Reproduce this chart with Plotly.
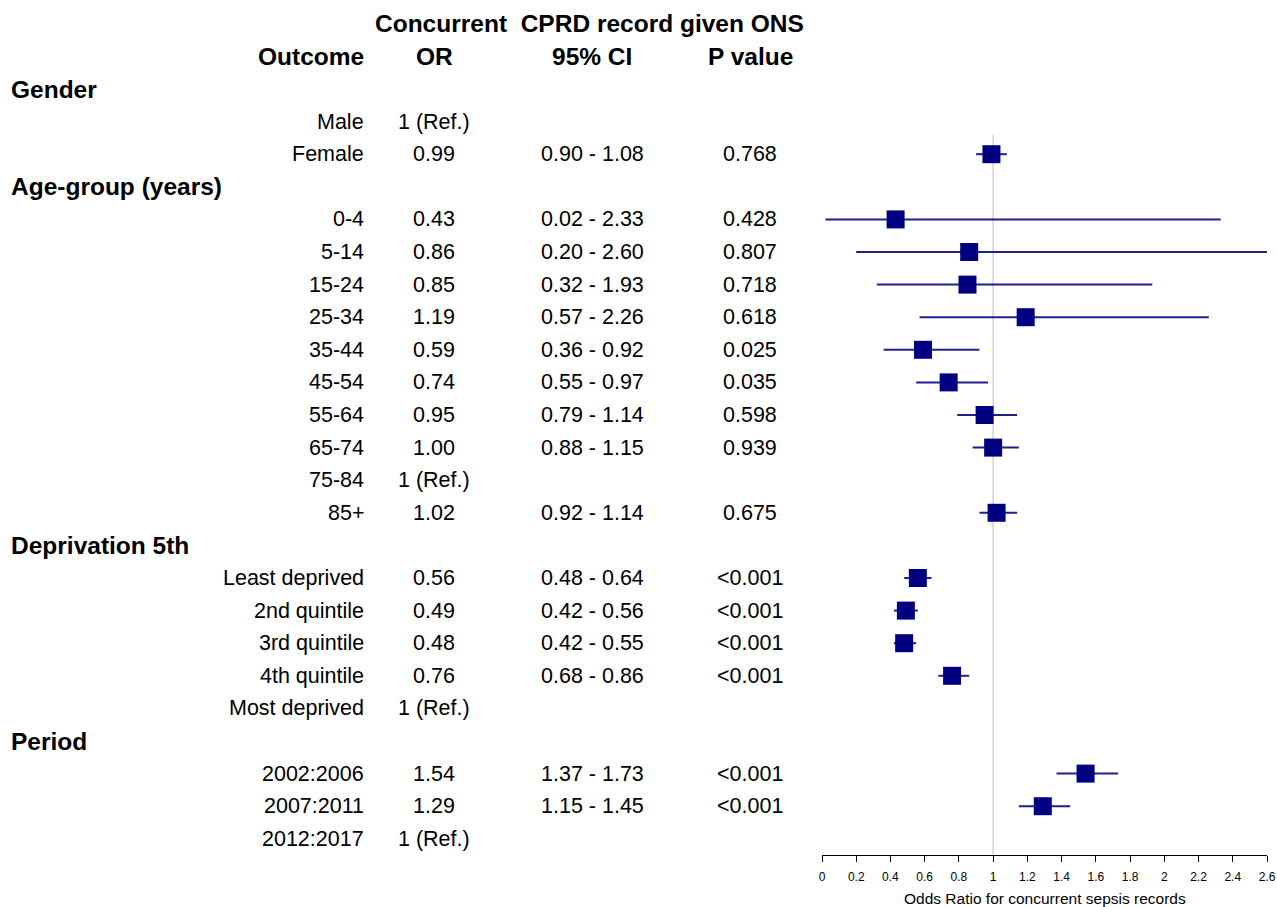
"""Forest plot: concurrent CPRD record given ONS."""

import plotly.graph_objects as go

# ---- data -------------------------------------------------------------
groups = ["Gender", "Gender",
          "Age-group (years)", "Age-group (years)", "Age-group (years)", "Age-group (years)",
          "Age-group (years)", "Age-group (years)", "Age-group (years)", "Age-group (years)",
          "Age-group (years)", "Age-group (years)",
          "Deprivation 5th", "Deprivation 5th", "Deprivation 5th", "Deprivation 5th", "Deprivation 5th",
          "Period", "Period", "Period"]
outcomes = ["Male", "Female",
            "0-4", "5-14", "15-24", "25-34", "35-44", "45-54", "55-64", "65-74", "75-84", "85+",
            "Least deprived", "2nd quintile", "3rd quintile", "4th quintile", "Most deprived",
            "2002:2006", "2007:2011", "2012:2017"]
odds_ratio = [None, 0.99,
              0.43, 0.86, 0.85, 1.19, 0.59, 0.74, 0.95, 1.00, None, 1.02,
              0.56, 0.49, 0.48, 0.76, None,
              1.54, 1.29, None]
ci_low = [None, 0.90,
          0.02, 0.20, 0.32, 0.57, 0.36, 0.55, 0.79, 0.88, None, 0.92,
          0.48, 0.42, 0.42, 0.68, None,
          1.37, 1.15, None]
ci_high = [None, 1.08,
           2.33, 2.60, 1.93, 2.26, 0.92, 0.97, 1.14, 1.15, None, 1.14,
           0.64, 0.56, 0.55, 0.86, None,
           1.73, 1.45, None]
p_values = ["", "0.768",
            "0.428", "0.807", "0.718", "0.618", "0.025", "0.035", "0.598", "0.939", "", "0.675",
            "<0.001", "<0.001", "<0.001", "<0.001", "",
            "<0.001", "<0.001", ""]
x_ticks = [0, 0.2, 0.4, 0.6, 0.8, 1, 1.2, 1.4, 1.6, 1.8, 2, 2.2, 2.4, 2.6]

# ---- layout rows: group header followed by its levels -------------------
rows = []
prev = None
for i, g in enumerate(groups):
    if g != prev:
        rows.append(("header", g, None))
        prev = g
    rows.append(("level", outcomes[i], i))

FONT = "Liberation Sans, Arial, sans-serif"
NAVY = "#000080"
W, H = 1277, 907
AX_L, AX_R = 822, 1267
AX_Y = 855
PW = AX_R  # plot area runs from 0 to the right end of the axis

fig = go.Figure()

annotations = []


def txt(x, y, s, anchor="center", bold=False):
    annotations.append(dict(
        x=x / PW, xref="paper", y=y, yref="y", text=f"<b>{s}</b>" if bold else s,
        showarrow=False, xanchor=anchor, yanchor="middle",
        font=dict(family=FONT, size=24.5 if bold else 21.5, color="black"),
    ))


# column headings
txt(589, -2, "Concurrent  CPRD record given ONS", bold=True)
txt(366, -1, "Outcome", anchor="right", bold=True)
txt(434, -1, "OR", bold=True)
txt(592, -1, "95% CI", bold=True)
txt(750, -1, "P value", bold=True)

ci_x, ci_y, pt_x, pt_y = [], [], [], []
for r, (kind, label, idx) in enumerate(rows):
    if kind == "header":
        txt(9, r, label, anchor="left", bold=True)
        continue
    txt(366, r, label, anchor="right")
    if odds_ratio[idx] is None:
        txt(434, r, "1 (Ref.)")
        continue
    txt(434, r, f"{odds_ratio[idx]:.2f}")
    txt(592, r, f"{ci_low[idx]:.2f} - {ci_high[idx]:.2f}")
    txt(750, r, p_values[idx])
    ci_x += [ci_low[idx], ci_high[idx], None]
    ci_y += [r, r, None]
    pt_x.append(odds_ratio[idx])
    pt_y.append(r)

n_rows = len(rows)

# reference line at OR = 1
fig.add_trace(go.Scatter(
    x=[1, 1], y=[1.4, n_rows - 0.5], mode="lines",
    line=dict(color="#d3d3d3", width=1.5), hoverinfo="skip", showlegend=False,
))
fig.add_trace(go.Scatter(
    x=ci_x, y=ci_y, mode="lines",
    line=dict(color="#1f1f8f", width=2), hoverinfo="skip", showlegend=False,
))
fig.add_trace(go.Scatter(
    x=pt_x, y=pt_y, mode="markers",
    marker=dict(symbol="square", size=18, color=NAVY, line=dict(width=0)),
    showlegend=False,
))

# axis title, placed below the tick labels
annotations.append(dict(
    x=(AX_L + AX_R) / 2 / PW, xref="paper", y=-(898 - AX_Y) / AX_Y, yref="paper",
    text="Odds Ratio for concurrent sepsis records", showarrow=False,
    xanchor="center", yanchor="middle",
    font=dict(family=FONT, size=15.5, color="black"),
))

# row 0 sits at 89px, rows are 32.6px apart, plot area spans 0..855px
step = 32.6
y_top = -89 / step
y_bot = (AX_Y - 89) / step

fig.update_layout(
    width=W, height=H,
    margin=dict(l=0, r=W - PW, t=0, b=H - AX_Y, autoexpand=False),
    plot_bgcolor="white", paper_bgcolor="white",
    annotations=annotations,
    xaxis=dict(
        domain=[AX_L / PW, 1], range=[0, 2.6],
        tickvals=x_ticks, ticktext=[f"{v:g}" for v in x_ticks],
        showgrid=False, zeroline=False,
        showline=True, linecolor="black", linewidth=1,
        ticks="outside", ticklen=6, tickcolor="black", tickwidth=1,
        ticklabelstandoff=5, automargin=False,
        tickfont=dict(family=FONT, size=12, color="black"),
    ),
    yaxis=dict(range=[y_bot, y_top], visible=False, showgrid=False, zeroline=False),
)

fig.write_html(
    "out.html",
    config={"displayModeBar": False},
    post_script=(
        "document.body.style.margin='0';"
        "document.body.style.overflow='hidden';"
        "document.documentElement.style.overflow='hidden';"
    ),
)
